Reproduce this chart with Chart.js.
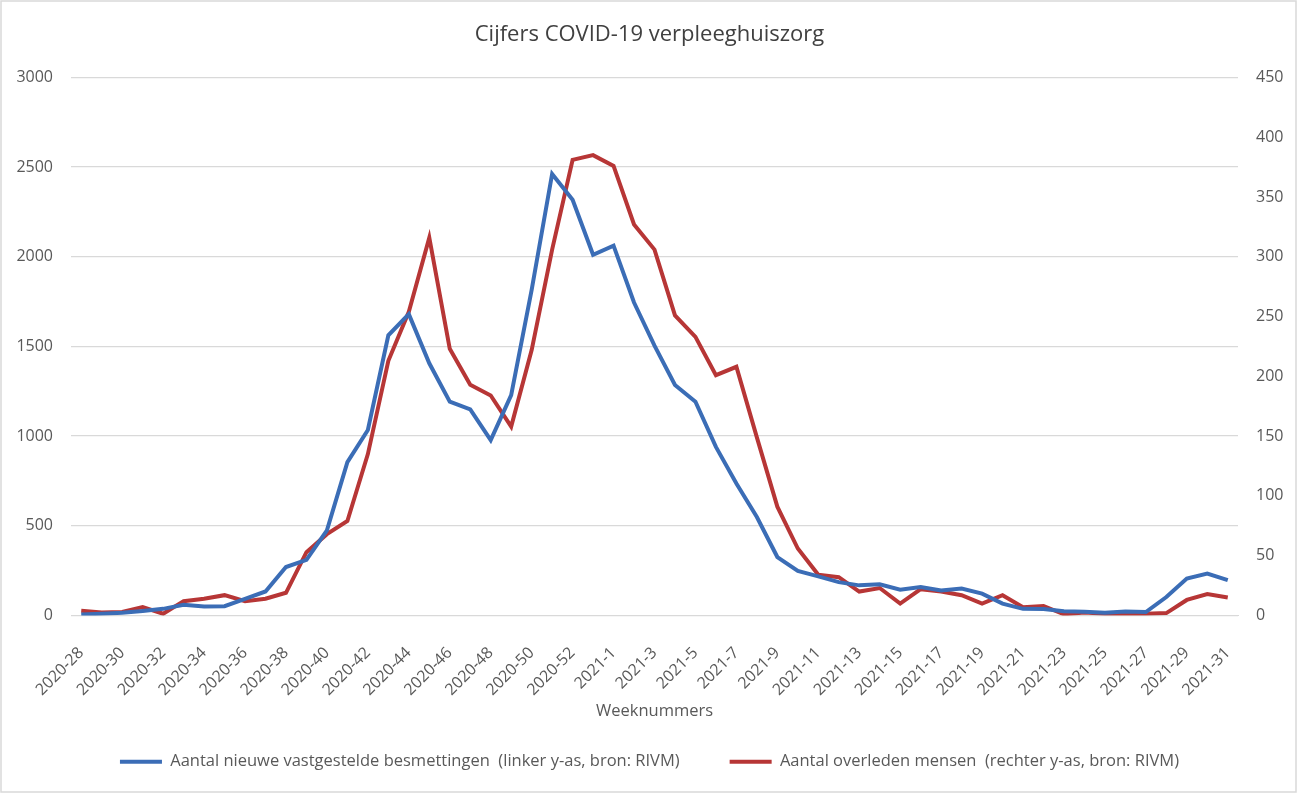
<!DOCTYPE html>
<html>
<head>
<meta charset="utf-8">
<script src="https://cdn.jsdelivr.net/npm/chart.js@4/dist/chart.umd.min.js"></script>
<style>
  html, body { margin: 0; padding: 0; background: #fff; }
  #wrap { width: 1299px; height: 794px; position: relative; }
</style>
</head>
<body>
<div id="wrap"><canvas id="myChart" width="1299" height="794"></canvas></div>
<script>
// weeks 2020-28 .. 2020-53, 2021-1 .. 2021-31
var weeks = [
  "2020-28","2020-29","2020-30","2020-31","2020-32","2020-33","2020-34","2020-35","2020-36","2020-37",
  "2020-38","2020-39","2020-40","2020-41","2020-42","2020-43","2020-44","2020-45","2020-46","2020-47",
  "2020-48","2020-49","2020-50","2020-51","2020-52","2020-53",
  "2021-1","2021-2","2021-3","2021-4","2021-5","2021-6","2021-7","2021-8","2021-9","2021-10",
  "2021-11","2021-12","2021-13","2021-14","2021-15","2021-16","2021-17","2021-18","2021-19","2021-20",
  "2021-21","2021-22","2021-23","2021-24","2021-25","2021-26","2021-27","2021-28","2021-29","2021-30","2021-31"
];

// nieuwe vastgestelde besmettingen (linker y-as)
var besmettingen = [
  5, 10, 15, 25, 37, 60, 50, 52, 93, 134,
  270, 310, 475, 855, 1034, 1562, 1680, 1406, 1192, 1149,
  978, 1229, 1816, 2462, 2318, 2011,
  2062, 1745, 1505, 1285, 1192, 940, 736, 549, 326, 248,
  218, 186, 168, 174, 144, 159, 140, 150, 122, 66,
  37, 36, 24, 21, 15, 22, 19, 103, 206, 234, 197
];

// overleden mensen (rechter y-as)
var overleden = [
  4, 2.5, 3, 7, 1.5, 12, 14, 17, 12, 14,
  19, 53, 68, 79, 135, 213, 254, 316, 223, 193,
  184, 158, 222, 306, 381, 385,
  376, 327, 306, 251, 233, 201, 208, 149, 91, 56,
  34, 32, 20, 23, 10, 22, 20, 17, 10, 17,
  7, 8, 1, 2.5, 1.5, 1.5, 1.5, 2, 13, 18, 15
];

var leftTicks = [0, 500, 1000, 1500, 2000, 2500, 3000];
var rightTicks = [0, 50, 100, 150, 200, 250, 300, 350, 400, 450];

var blue = '#3b6db6';
var red = '#b73636';
var textGrey = '#595959';
var font = "'Open Sans', 'Liberation Sans', sans-serif";

var frame = {
  id: 'frame',
  beforeDraw: function(chart) {
    var c = chart.ctx;
    c.save();
    c.fillStyle = '#fff';
    c.fillRect(0, 0, chart.width, chart.height);
    c.strokeStyle = '#d9d9d9';
    c.lineWidth = 1.5;
    c.strokeRect(1, 1, chart.width - 4, chart.height - 3);
    c.restore();
  }
};

var ctx = document.getElementById("myChart");
var myChart = new Chart(ctx, {
  type: 'line',
  data: {
    labels: weeks,
    datasets: [{
      label: "Aantal nieuwe vastgestelde besmettingen  (linker y-as, bron: RIVM)",
      data: besmettingen,
      yAxisID: 'y',
      borderColor: blue,
      backgroundColor: blue,
      borderWidth: 4,
      pointRadius: 0,
      tension: 0
    }, {
      label: "Aantal overleden mensen  (rechter y-as, bron: RIVM)",
      data: overleden,
      yAxisID: 'y2',
      borderColor: red,
      backgroundColor: red,
      borderWidth: 4,
      pointRadius: 0,
      tension: 0
    }]
  },
  options: {
    responsive: false,
    animation: false,
    layout: { padding: { left: 0, right: 0, top: 0, bottom: 14 } },
    plugins: {
      title: {
        display: true,
        text: 'Cijfers COVID-19 verpleeghuiszorg',
        color: '#404040',
        font: { family: font, size: 22, weight: 'normal' },
        padding: { top: 22, bottom: 29 }
      },
      legend: {
        position: 'bottom',
        labels: {
          color: textGrey,
          font: { family: font, size: 16.5 },
          usePointStyle: true,
          pointStyle: 'line',
          pointStyleWidth: 42,
          boxHeight: 4,
          padding: 50
        }
      },
      tooltip: { enabled: false }
    },
    scales: {
      x: {
        offset: true,
        grid: { display: false, drawTicks: false },
        border: { display: true, color: '#d9d9d9', width: 1 },
        ticks: {
          color: textGrey,
          font: { family: font, size: 16 },
          autoSkip: false,
          minRotation: 45,
          maxRotation: 45,
          padding: 28,
          callback: function(v, i) { return i % 2 === 0 ? weeks[i] : ''; }
        },
        title: {
          display: true,
          text: 'Weeknummers',
          color: textGrey,
          font: { family: font, size: 16.5 },
          padding: { top: 0, bottom: -18 }
        },
        afterFit: function(s) { s.height = 88; }
      },
      y: {
        position: 'left',
        min: 0,
        max: 3000,
        afterBuildTicks: function(s) { s.ticks = leftTicks.map(function(v) { return { value: v }; }); },
        grid: { color: '#d9d9d9', lineWidth: 1.3, drawTicks: false },
        border: { display: false },
        ticks: {
          color: textGrey,
          font: { family: font, size: 16 },
          padding: 18,
          callback: function(v) { return String(v); }
        },
        afterFit: function(s) { s.width = 71; }
      },
      y2: {
        position: 'right',
        min: 0,
        max: 450,
        afterBuildTicks: function(s) { s.ticks = rightTicks.map(function(v) { return { value: v }; }); },
        grid: { display: false, drawTicks: false },
        border: { display: false },
        ticks: {
          color: textGrey,
          font: { family: font, size: 16 },
          padding: 18,
          callback: function(v) { return String(v); }
        },
        afterFit: function(s) { s.width = 61; }
      }
    }
  },
  plugins: [frame]
});
</script>
</body>
</html>
